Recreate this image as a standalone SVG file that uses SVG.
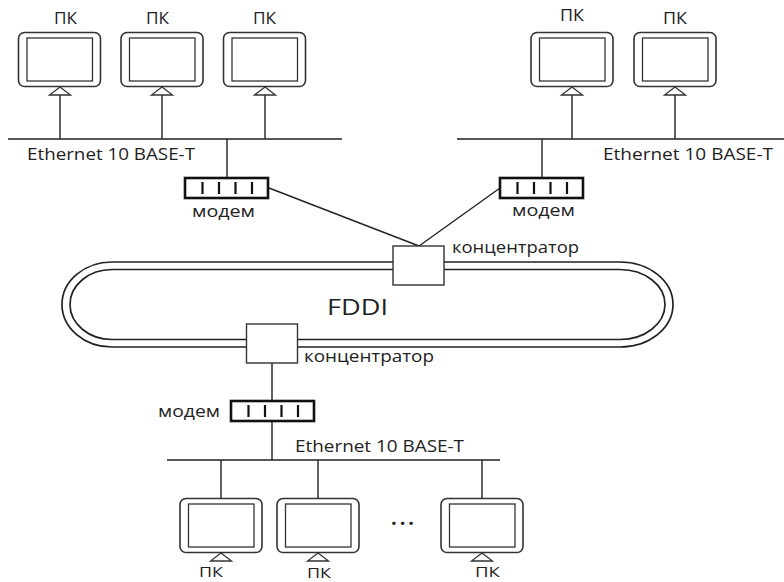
<svg xmlns="http://www.w3.org/2000/svg" xmlns:xlink="http://www.w3.org/1999/xlink" width="784" height="582" viewBox="0 0 784 582">
<style>
text{font-family:"Open Sans","Noto Sans","DejaVu Sans",sans-serif;font-size:16px;fill:#222}
.l{fill:none;stroke:#222;stroke-width:1.4}
.r{fill:none;stroke:#222;stroke-width:1.7}
.o{fill:#fff;stroke:#333;stroke-width:1.6}
.i{fill:#fff;stroke:#333;stroke-width:1.3}
.m{fill:#fff;stroke:#111;stroke-width:2.6}
.b{stroke:#111;stroke-width:2.2}
.h{fill:#fff;stroke:#333;stroke-width:1.4}
</style>
<defs>
<g id="pc"><rect class="o" x="0" y="0" width="82" height="54" rx="6"/><rect class="i" x="8.500" y="5.500" width="65.500" height="43"/></g>
<g id="mod"><rect class="m" x="0" y="0" width="83" height="20"/><path class="b" d="M17.500 4V16M34 4V16M50.500 4V16M67 4V16"/></g>
<path id="tri" class="i" d="M0 0L10.500 8H-10.500Z"/>
</defs>
<g id="connectors">
<path class="l" d="M8 139H342M60 95V139M162 95V139M265 95V139M227 139V177M269 188L419 246M457 139H784M572 95V139M675 95V139M542 139V177M500 188L419 246M272 363V460M167 460H500M221 460V498M318 460V498M482 460V498"/>
<path class="r" d="M112 262H620A53 42.500 0 0 1 620 347H112A50 42.500 0 0 1 112 262Z"/>
<path class="r" d="M112 269.500H620A45 35 0 0 1 620 339.500H112A42 35 0 0 1 112 269.500Z"/>
</g>
<g id="pc1"><use xlink:href="#pc" x="18.500" y="32.500"/><use xlink:href="#tri" x="60" y="87"/><text x="54" y="24" textLength="23" lengthAdjust="spacingAndGlyphs">ПК</text></g>
<g id="pc2"><use xlink:href="#pc" x="121" y="32.500"/><use xlink:href="#tri" x="162" y="87"/><text x="146" y="24" textLength="23" lengthAdjust="spacingAndGlyphs">ПК</text></g>
<g id="pc3"><use xlink:href="#pc" x="223.500" y="32.500"/><use xlink:href="#tri" x="265" y="87"/><text x="253" y="24" textLength="23" lengthAdjust="spacingAndGlyphs">ПК</text></g>
<g id="pc4"><use xlink:href="#pc" x="531" y="32.500"/><use xlink:href="#tri" x="572" y="87"/><text x="560" y="21" textLength="24" lengthAdjust="spacingAndGlyphs">ПК</text></g>
<g id="pc5"><use xlink:href="#pc" x="634" y="32.500"/><use xlink:href="#tri" x="675" y="87"/><text x="663" y="24" textLength="24" lengthAdjust="spacingAndGlyphs">ПК</text></g>
<g id="pc6"><use xlink:href="#pc" x="180" y="498.500"/><use xlink:href="#tri" x="221" y="553"/><text x="199" y="577" textLength="24" lengthAdjust="spacingAndGlyphs" style="font-size:15px">ПК</text></g>
<g id="pc7"><use xlink:href="#pc" x="277" y="498.500"/><use xlink:href="#tri" x="318" y="553"/><text x="307" y="578" textLength="24" lengthAdjust="spacingAndGlyphs" style="font-size:15px">ПК</text></g>
<g id="pc8"><use xlink:href="#pc" x="441" y="498.500"/><use xlink:href="#tri" x="482" y="553"/><text x="475" y="577" textLength="25" lengthAdjust="spacingAndGlyphs" style="font-size:15px">ПК</text></g>
<g id="modem1"><use xlink:href="#mod" x="185" y="178"/><text x="192" y="217" textLength="63" lengthAdjust="spacingAndGlyphs">модем</text></g>
<g id="modem2"><use xlink:href="#mod" x="500" y="178"/><text x="512" y="216" textLength="63" lengthAdjust="spacingAndGlyphs">модем</text></g>
<g id="modem3"><use xlink:href="#mod" x="231" y="401"/><text x="158" y="417" textLength="62" lengthAdjust="spacingAndGlyphs">модем</text></g>
<g id="hub1"><rect class="h" x="393" y="246" width="51" height="39"/><text x="452" y="253" textLength="127" lengthAdjust="spacingAndGlyphs">концентратор</text></g>
<g id="hub2"><rect class="h" x="246.500" y="324" width="51" height="39"/><text x="304" y="362" textLength="130" lengthAdjust="spacingAndGlyphs">концентратор</text></g>
<g id="labels">
<text x="27" y="160" textLength="168" lengthAdjust="spacingAndGlyphs">Ethernet 10 BASE-T</text>
<text x="603" y="160" textLength="170" lengthAdjust="spacingAndGlyphs">Ethernet 10 BASE-T</text>
<text x="295" y="452" textLength="169" lengthAdjust="spacingAndGlyphs">Ethernet 10 BASE-T</text>
<text x="327" y="315" style="font-size:22px" textLength="61" lengthAdjust="spacingAndGlyphs">FDDI</text>
<text x="391" y="525" style="font-size:20px;font-weight:bold" textLength="23">...</text>
</g>
</svg>
